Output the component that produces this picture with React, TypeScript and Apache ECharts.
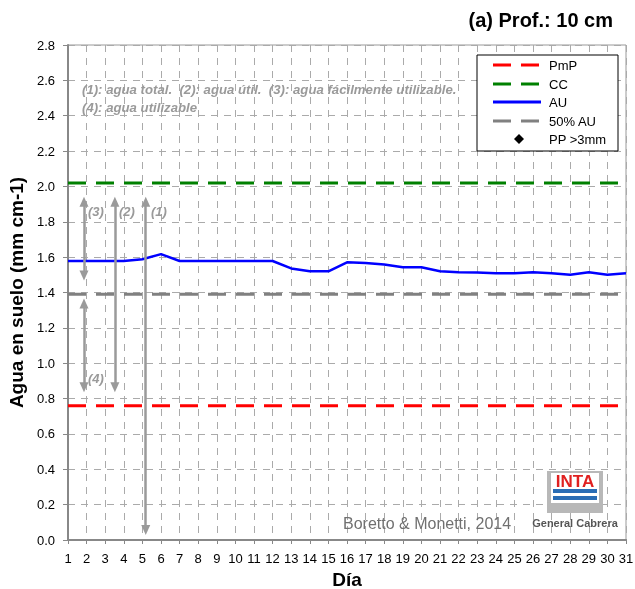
import React, { useEffect, useRef } from "react";
import * as echarts from "echarts";

const days: number[] = Array.from({ length: 31 }, (_, i) => i + 1);
const auValues: number[] = [
  1.578, 1.578, 1.578, 1.578, 1.588, 1.617, 1.578, 1.578, 1.578, 1.578,
  1.578, 1.578, 1.536, 1.52, 1.52, 1.571, 1.567, 1.558, 1.543, 1.543,
  1.52, 1.515, 1.513, 1.509, 1.509, 1.515, 1.509, 1.5, 1.515, 1.5, 1.509,
];
const pmp = 0.76;
const cc = 2.02;
const halfAU = 1.39;
const ppDays: number[] = [];
const ppValues: number[] = [];

// arrows: [x (day), yStart, yEnd]
const arrowX: number[] = [1.86, 1.86, 3.52, 5.18];
const arrowTop: number[] = [1.914, 1.338, 1.914, 1.914];
const arrowBottom: number[] = [1.496, 0.864, 0.864, 0.056];

const FONT = "'Liberation Sans', Arial, sans-serif";

export default function App() {
  const ref = useRef<HTMLDivElement>(null);
  useEffect(() => {
    if (!ref.current) return;
    const chart = echarts.init(ref.current, null, { renderer: "svg" });
    const lineSeries = (name: string, val: number, color: string) => ({
      name,
      type: "line",
      data: [
        [days[0], val],
        [days[days.length - 1], val],
      ],
      symbol: "none",
      lineStyle: { color, width: 3, type: [18, 10] },
      silent: true,
      z: 3,
    });
    const legendX = 493;
    const legendRows = [65, 84, 102, 121, 139];
    const textColor = "#9a9a9a";
    chart.setOption({
      animation: false,
      textStyle: { fontFamily: FONT },
      grid: {
        left: 68,
        right: 9,
        top: 45,
        bottom: 49,
        show: true,
        borderColor: "#999",
        borderWidth: 1,
        containLabel: false,
        outerBoundsMode: "none",
      },
      xAxis: {
        type: "value",
        min: 1,
        max: 31,
        interval: 1,
        name: "Día",
        nameLocation: "middle",
        nameGap: 27,
        nameTextStyle: { fontSize: 19, fontWeight: "bold", color: "#000", fontFamily: FONT },
        axisLine: { show: true, lineStyle: { color: "#888", width: 2 } },
        axisTick: { show: true, length: 4, lineStyle: { color: "#888" } },
        axisLabel: { fontSize: 13, color: "#000", margin: 12, fontFamily: FONT },
        splitLine: { show: true, lineStyle: { color: "#aaa", type: [7, 6], width: 1 } },
      },
      yAxis: {
        type: "value",
        min: 0,
        max: 2.8,
        interval: 0.2,
        name: "Agua en suelo (mm cm-1)",
        nameLocation: "middle",
        nameGap: 41,
        nameTextStyle: { fontSize: 19, fontWeight: "bold", color: "#000", fontFamily: FONT },
        axisLine: { show: true, lineStyle: { color: "#888", width: 2 } },
        axisTick: { show: true, length: 5, lineStyle: { color: "#888" } },
        axisLabel: {
          fontSize: 13,
          color: "#000",
          margin: 13,
          fontFamily: FONT,
          formatter: (v: number) => v.toFixed(1),
        },
        splitLine: { show: true, lineStyle: { color: "#aaa", type: [7, 6], width: 1 } },
      },
      series: [
        lineSeries("PmP", pmp, "#ff0000"),
        lineSeries("CC", cc, "#008000"),
        lineSeries("50% AU", halfAU, "#808080"),
        {
          name: "AU",
          type: "line",
          data: days.map((d, i) => [d, auValues[i]]),
          symbol: "none",
          lineStyle: { color: "#0000ff", width: 2.5 },
          z: 4,
          silent: true,
          markLine: {
            silent: true,
            symbol: ["triangle", "triangle"],
            symbolSize: [9, 10],
            label: { show: false },
            lineStyle: { color: "#9a9a9a", width: 2.5, type: "solid" },
            emphasis: { disabled: true },
            data: arrowX.map((x, i) => [
              { coord: [x, arrowTop[i]] },
              { coord: [x, arrowBottom[i]] },
            ]),
          },
        },
        {
          name: "PP >3mm",
          type: "scatter",
          data: ppDays.map((d, i) => [d, ppValues[i]]),
          symbol: "diamond",
          symbolSize: 9,
          itemStyle: { color: "#000" },
        },
      ],
      graphic: [
        {
          type: "text",
          right: 22,
          top: 10,
          style: {
            text: "(a) Prof.: 10 cm",
            font: `bold 20px ${FONT}`,
            fill: "#000",
          },
        },
        {
          type: "text",
          x: 82,
          y: 89,
          style: {
            text: "(1): agua total.  (2): agua útil.  (3): agua fácilmente utilizable.",
            font: `italic bold 13.2px ${FONT}`,
            fill: textColor,
            verticalAlign: "middle",
          },
          z: 10,
        },
        {
          type: "text",
          x: 82,
          y: 107,
          style: {
            text: "(4): agua utilizable",
            font: `italic bold 13.2px ${FONT}`,
            fill: textColor,
            verticalAlign: "middle",
          },
          z: 10,
        },
        ...[
          ["(3)", 88, 211],
          ["(2)", 119, 211],
          ["(1)", 151, 211],
          ["(4)", 88, 378],
        ].map(([t, x, y]) => ({
          type: "text",
          x: x as number,
          y: y as number,
          style: {
            text: t as string,
            font: `italic bold 13px ${FONT}`,
            fill: textColor,
            verticalAlign: "middle",
          },
          z: 10,
        })),
        // legend
        {
          type: "rect",
          shape: { x: 477, y: 55, width: 141, height: 96 },
          style: { fill: "#fff", stroke: "#000", lineWidth: 1 },
          z: 20,
        },
        ...[
          ["#ff0000", [18, 10]],
          ["#008000", [18, 10]],
          ["#0000ff", null],
          ["#808080", [18, 10]],
        ].map(([c, dash], i) => ({
          type: "line",
          shape: { x1: legendX, y1: legendRows[i], x2: 541, y2: legendRows[i] },
          style: {
            stroke: c as string,
            lineWidth: 3,
            lineDash: dash ? (dash as number[]) : null,
          },
          z: 21,
        })),
        {
          type: "polygon",
          shape: {
            points: [
              [519, legendRows[4] - 5],
              [524, legendRows[4]],
              [519, legendRows[4] + 5],
              [514, legendRows[4]],
            ],
          },
          style: { fill: "#000" },
          z: 21,
        },
        ...["PmP", "CC", "AU", "50% AU", "PP >3mm"].map((t, i) => ({
          type: "text",
          x: 549,
          y: legendRows[i],
          style: {
            text: t,
            font: `13px ${FONT}`,
            fill: "#000",
            verticalAlign: "middle",
          },
          z: 21,
        })),
        // credits
        {
          type: "text",
          x: 343,
          y: 523,
          style: {
            text: "Boretto & Monetti, 2014",
            font: `16px ${FONT}`,
            fill: "#707070",
            verticalAlign: "middle",
          },
          z: 10,
        },
        {
          type: "rect",
          shape: { x: 547, y: 471, width: 56, height: 42 },
          style: { fill: "#b8b8b8" },
          z: 10,
        },
        {
          type: "rect",
          shape: { x: 551, y: 473, width: 48, height: 30 },
          style: { fill: "#fff" },
          z: 11,
        },
        {
          type: "text",
          x: 575,
          y: 481,
          style: {
            text: "INTA",
            font: `bold 17px ${FONT}`,
            fill: "#e02020",
            align: "center",
            verticalAlign: "middle",
          },
          z: 12,
        },
        {
          type: "rect",
          shape: { x: 553, y: 489, width: 44, height: 4 },
          style: { fill: "#2a6db5" },
          z: 12,
        },
        {
          type: "rect",
          shape: { x: 553, y: 496, width: 44, height: 4 },
          style: { fill: "#2a6db5" },
          z: 12,
        },
        {
          type: "text",
          x: 575,
          y: 523,
          style: {
            text: "General Cabrera",
            font: `bold 11px ${FONT}`,
            fill: "#555",
            align: "center",
            verticalAlign: "middle",
          },
          z: 12,
        },
      ],
    });
    return () => chart.dispose();
  }, []);
  return (
    <div
      ref={ref}
      style={{ position: "fixed", left: 0, top: 0, width: 635, height: 589 }}
    />
  );
}
